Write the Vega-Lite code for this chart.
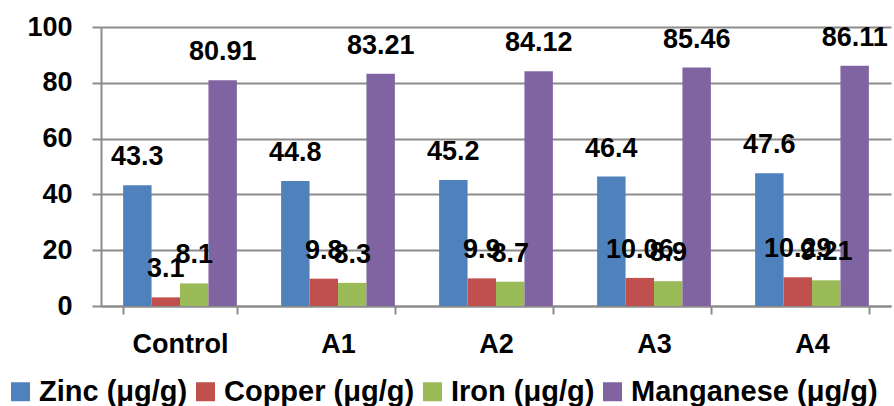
{
  "$schema": "https://vega.github.io/schema/vega-lite/v6.json",
  "width": 790,
  "height": 279,
  "autosize": {"type": "none"},
  "padding": {"left": 101, "top": 27, "right": 3, "bottom": 100},
  "background": "white",
  "config": {
    "font": "Liberation Sans",
    "view": {"stroke": null},
    "axis": {
      "labelFont": "Liberation Sans",
      "labelFontWeight": "bold",
      "labelFontSize": 27,
      "labelColor": "black",
      "domainColor": "#8c8c8c",
      "domainWidth": 2,
      "tickColor": "#8c8c8c",
      "tickWidth": 2,
      "gridColor": "#8c8c8c",
      "gridWidth": 2,
      "title": null
    }
  },
  "data": {
    "values": [
      {"group": "Control", "element": "Zinc (μg/g)", "value": 43.3, "label": "43.3"},
      {"group": "Control", "element": "Copper (μg/g)", "value": 3.1, "label": "3.1"},
      {"group": "Control", "element": "Iron (μg/g)", "value": 8.1, "label": "8.1"},
      {"group": "Control", "element": "Manganese (μg/g)", "value": 80.91, "label": "80.91"},
      {"group": "A1", "element": "Zinc (μg/g)", "value": 44.8, "label": "44.8"},
      {"group": "A1", "element": "Copper (μg/g)", "value": 9.8, "label": "9.8"},
      {"group": "A1", "element": "Iron (μg/g)", "value": 8.3, "label": "8.3"},
      {"group": "A1", "element": "Manganese (μg/g)", "value": 83.21, "label": "83.21"},
      {"group": "A2", "element": "Zinc (μg/g)", "value": 45.2, "label": "45.2"},
      {"group": "A2", "element": "Copper (μg/g)", "value": 9.9, "label": "9.9"},
      {"group": "A2", "element": "Iron (μg/g)", "value": 8.7, "label": "8.7"},
      {"group": "A2", "element": "Manganese (μg/g)", "value": 84.12, "label": "84.12"},
      {"group": "A3", "element": "Zinc (μg/g)", "value": 46.4, "label": "46.4"},
      {"group": "A3", "element": "Copper (μg/g)", "value": 10.06, "label": "10.06"},
      {"group": "A3", "element": "Iron (μg/g)", "value": 8.9, "label": "8.9"},
      {"group": "A3", "element": "Manganese (μg/g)", "value": 85.46, "label": "85.46"},
      {"group": "A4", "element": "Zinc (μg/g)", "value": 47.6, "label": "47.6"},
      {"group": "A4", "element": "Copper (μg/g)", "value": 10.29, "label": "10.29"},
      {"group": "A4", "element": "Iron (μg/g)", "value": 9.21, "label": "9.21"},
      {"group": "A4", "element": "Manganese (μg/g)", "value": 86.11, "label": "86.11"}
    ]
  },
  "encoding": {
    "x": {
      "field": "group",
      "type": "nominal",
      "sort": ["Control", "A1", "A2", "A3", "A4"],
      "scale": {"paddingInner": 0.28, "paddingOuter": 0.14},
      "axis": {
        "labelAngle": 0,
        "tickBand": "extent",
        "tickSize": 8,
        "labelPadding": 17,
        "grid": false
      }
    },
    "xOffset": {
      "field": "element",
      "type": "nominal",
      "sort": ["Zinc (μg/g)", "Copper (μg/g)", "Iron (μg/g)", "Manganese (μg/g)"]
    },
    "y": {
      "field": "value",
      "type": "quantitative",
      "scale": {"domain": [0, 100], "nice": false},
      "axis": {
        "values": [0, 20, 40, 60, 80, 100],
        "tickSize": 9,
        "labelPadding": 20,
        "grid": true
      }
    }
  },
  "layer": [
    {
      "mark": {"type": "bar"},
      "encoding": {
        "color": {
          "field": "element",
          "type": "nominal",
          "sort": ["Zinc (μg/g)", "Copper (μg/g)", "Iron (μg/g)", "Manganese (μg/g)"],
          "scale": {
            "domain": ["Zinc (μg/g)", "Copper (μg/g)", "Iron (μg/g)", "Manganese (μg/g)"],
            "range": ["#4F81BD", "#C0504D", "#9BBB59", "#8064A2"]
          },
          "legend": {
            "title": null,
            "orient": "none",
            "direction": "horizontal",
            "legendX": -95,
            "legendY": 350,
            "symbolType": "square",
            "symbolSize": 361,
            "symbolStrokeWidth": 0,
            "labelFont": "Liberation Sans",
            "labelFontWeight": "bold",
            "labelFontSize": 29,
            "labelColor": "black",
            "labelLimit": 400,
            "labelOffset": 4,
            "columnPadding": 3
          }
        }
      }
    },
    {
      "mark": {
        "type": "text",
        "baseline": "alphabetic",
        "align": "center",
        "dy": -20,
        "font": "Liberation Sans",
        "fontWeight": "bold",
        "fontSize": 27,
        "color": "black"
      },
      "encoding": {
        "text": {"field": "label", "type": "nominal"}
      }
    }
  ]
}
